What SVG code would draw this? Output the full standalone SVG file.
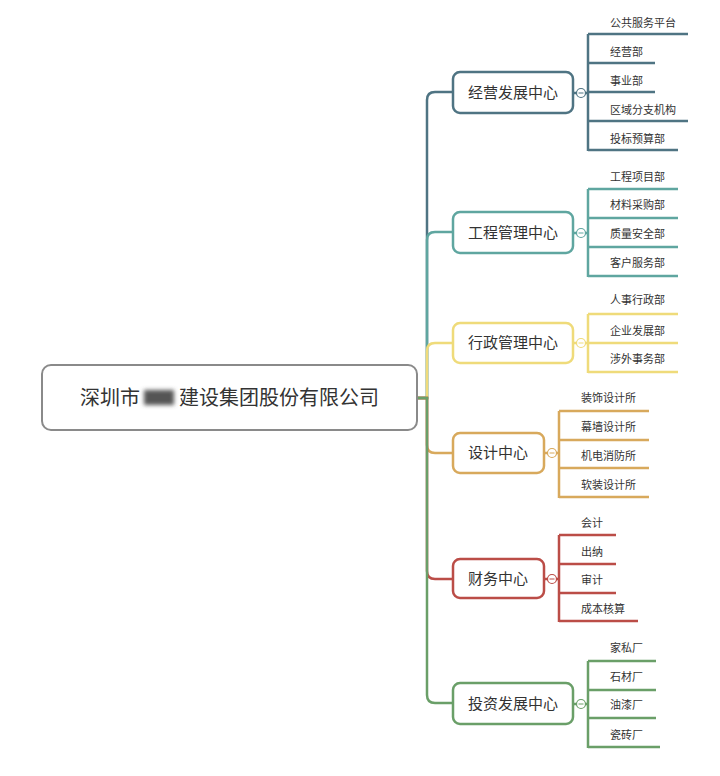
<svg xmlns="http://www.w3.org/2000/svg" width="720" height="776" viewBox="0 0 720 776">
<defs>
<style>
.root{fill:#fff;stroke:#8a8a8a;stroke-width:2}
.node{fill:#fff;stroke-width:2.5}
.ln{fill:none;stroke-width:2.5}
.t1{font-family:"Noto Sans CJK SC","Noto Sans",sans-serif;font-size:15px;fill:#333;text-anchor:middle}
.t2{font-family:"Noto Sans CJK SC","Noto Sans",sans-serif;font-size:11px;fill:#333}
.t0{font-family:"Noto Sans CJK SC","Noto Sans",sans-serif;font-size:20px;fill:#333}
.c{fill:#fff;stroke-width:1.2}
.b1{stroke:#4f7483}.b2{stroke:#5fa6a0}.b3{stroke:#efdb7a}.b4{stroke:#d8a95c}.b5{stroke:#bb4d47}.b6{stroke:#6a9f68}
</style>
<filter id="blur" x="-20%" y="-50%" width="140%" height="200%"><feGaussianBlur stdDeviation="2"/></filter>
</defs>
<rect width="720" height="776" fill="#fff"/>
<g id="connectors">
<path class="ln b1" d="M417,398 H427 V100 Q427,92 435,92 H453"/>
<path class="ln b2" d="M417,398 H427 V240 Q427,232 435,232 H453"/>
<path class="ln b3" d="M417,398 H427 V351 Q427,343 435,343 H453"/>
<path class="ln b4" d="M417,398 H427 V445 Q427,453 435,453 H453"/>
<path class="ln b5" d="M417,398 H427 V571 Q427,579 435,579 H453"/>
<path class="ln b6" d="M417,398 H427 V695 Q427,703 435,703 H453"/>
<path class="ln b1" d="M573,93 H588 M588,34 V151 M588,34 H688 M588,63 H655 M588,92 H655 M588,121 H688 M588,150 H678"/>
<path class="ln b2" d="M573,233 H588 M588,189 V277 M588,189 H678 M588,218 H678 M588,247 H678 M588,276 H678"/>
<path class="ln b3" d="M573,343 H588 M588,314 V373 M588,314 H678 M588,343 H678 M588,372 H678"/>
<path class="ln b4" d="M544,453 H559 M559,411 V498 M559,411 H649 M559,440 H649 M559,468 H649 M559,497 H649"/>
<path class="ln b5" d="M544,579 H559 M559,535 V622 M559,535 H616 M559,564 H616 M559,593 H616 M559,621 H638"/>
<path class="ln b6" d="M573,704 H588 M588,661 V748 M588,661 H656 M588,690 H656 M588,718 H656 M588,747 H660"/>
</g>
<g id="root">
<rect class="root" x="42" y="365" width="375" height="65" rx="9"/>
<text class="t0" x="80" y="405">深圳市</text>
<rect x="144" y="390" width="30" height="15" fill="#555" filter="url(#blur)"/>
<text class="t0" x="179" y="405">建设集团股份有限公司</text>
</g>
<g id="n1">
<rect class="node b1" x="453" y="72" width="120" height="41" rx="7"/>
<text class="t1" x="513" y="98">经营发展中心</text>
<circle class="c b1" cx="581" cy="93" r="4.5"/><path class="b1" d="M578.5,93 H583.5" stroke-width="1"/>
<text class="t2" x="610" y="27">公共服务平台</text>
<text class="t2" x="610" y="56">经营部</text>
<text class="t2" x="610" y="85">事业部</text>
<text class="t2" x="610" y="114">区域分支机构</text>
<text class="t2" x="610" y="143">投标预算部</text>
</g>
<g id="n2">
<rect class="node b2" x="453" y="212" width="120" height="41" rx="7"/>
<text class="t1" x="513" y="238">工程管理中心</text>
<circle class="c b2" cx="581" cy="233" r="4.5"/><path class="b2" d="M578.5,233 H583.5" stroke-width="1"/>
<text class="t2" x="610" y="181">工程项目部</text>
<text class="t2" x="610" y="209">材料采购部</text>
<text class="t2" x="610" y="238">质量安全部</text>
<text class="t2" x="610" y="267">客户服务部</text>
</g>
<g id="n3">
<rect class="node b3" x="453" y="323" width="120" height="40" rx="7"/>
<text class="t1" x="513" y="348">行政管理中心</text>
<circle class="c b3" cx="581" cy="343" r="4.5"/><path class="b3" d="M578.5,343 H583.5" stroke-width="1"/>
<text class="t2" x="610" y="304">人事行政部</text>
<text class="t2" x="610" y="335">企业发展部</text>
<text class="t2" x="610" y="363">涉外事务部</text>
</g>
<g id="n4">
<rect class="node b4" x="453" y="433" width="91" height="40" rx="7"/>
<text class="t1" x="498" y="458">设计中心</text>
<circle class="c b4" cx="552" cy="453" r="4.5"/><path class="b4" d="M549.5,453 H554.5" stroke-width="1"/>
<text class="t2" x="581" y="402">装饰设计所</text>
<text class="t2" x="581" y="431">幕墙设计所</text>
<text class="t2" x="581" y="460">机电消防所</text>
<text class="t2" x="581" y="489">软装设计所</text>
</g>
<g id="n5">
<rect class="node b5" x="453" y="559" width="91" height="39" rx="7"/>
<text class="t1" x="498" y="584">财务中心</text>
<circle class="c b5" cx="552" cy="579" r="4.5"/><path class="b5" d="M549.5,579 H554.5" stroke-width="1"/>
<text class="t2" x="581" y="527">会计</text>
<text class="t2" x="581" y="556">出纳</text>
<text class="t2" x="581" y="584">审计</text>
<text class="t2" x="581" y="613">成本核算</text>
</g>
<g id="n6">
<rect class="node b6" x="453" y="683" width="120" height="41" rx="7"/>
<text class="t1" x="513" y="709">投资发展中心</text>
<circle class="c b6" cx="581" cy="704" r="4.5"/><path class="b6" d="M578.5,704 H583.5" stroke-width="1"/>
<text class="t2" x="610" y="652">家私厂</text>
<text class="t2" x="610" y="681">石材厂</text>
<text class="t2" x="610" y="709">油漆厂</text>
<text class="t2" x="610" y="739">瓷砖厂</text>
</g>
</svg>
